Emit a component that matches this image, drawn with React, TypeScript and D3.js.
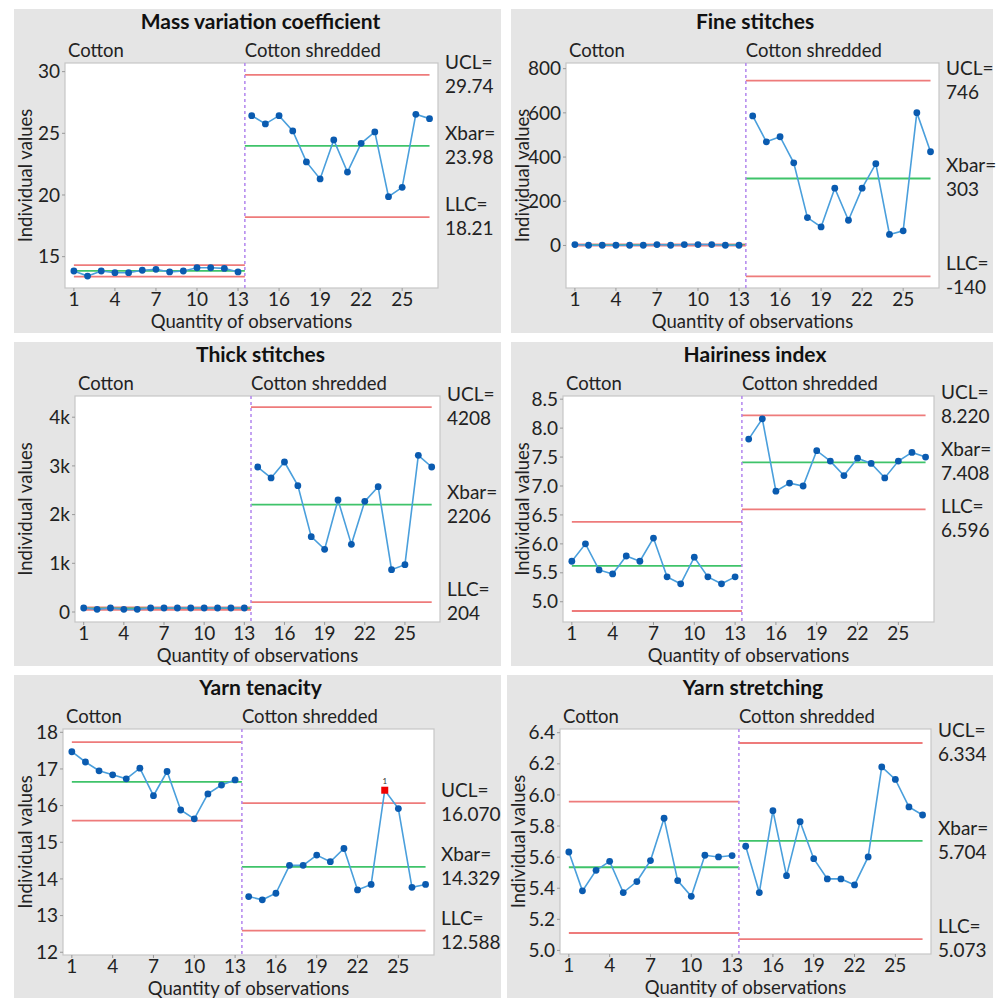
import React from "react";
import * as d3 from "d3";

const obsTicks = [1, 4, 7, 10, 13, 16, 19, 22, 25];
const limitNames = ["UCL=", "Xbar=", "LLC="];
const stageNames = ["Cotton", "Cotton shredded"];

// mass variation coefficient
const massCotton = [13.84, 13.43, 13.84, 13.7, 13.7, 13.9, 13.97, 13.76, 13.84, 14.1, 14.1, 14.05, 13.76];
const massShredded = [26.43, 25.76, 26.43, 25.19, 22.68, 21.3, 24.46, 21.86, 24.19, 25.11, 19.86, 20.62, 26.54, 26.19];
const massCottonLimits = [14.32, 13.85, 13.38];
const massShreddedLimits = [29.74, 23.98, 18.21];
const massLimitText = ["29.74", "23.98", "18.21"];
const massTicks = [15, 20, 25, 30];

// fine stitches
const fineCotton = [4, 1, 1, 1, 1, 1, 4, 1, 4, 4, 4, 1, 1];
const fineShredded = [586, 469, 492, 374, 126, 84, 259, 114, 259, 370, 50, 66, 601, 424];
const fineCottonLimits = [5, 2.1, -1];
const fineShreddedLimits = [746, 303, -140];
const fineLimitText = ["746", "303", "-140"];
const fineTicks = [0, 200, 400, 600, 800];

// thick stitches
const thickCotton = [82, 55, 82, 55, 55, 82, 82, 82, 82, 82, 82, 82, 82];
const thickShredded = [2977, 2752, 3080, 2594, 1547, 1287, 2300, 1389, 2272, 2574, 869, 972, 3217, 2977];
const thickCottonLimits = [95, 72, 45];
const thickShreddedLimits = [4208, 2206, 204];
const thickLimitText = ["4208", "2206", "204"];
const thickTicks = [0, 1000, 2000, 3000, 4000];

// hairiness index
const hairCotton = [5.7, 6.0, 5.55, 5.48, 5.79, 5.7, 6.1, 5.43, 5.31, 5.77, 5.43, 5.31, 5.43];
const hairShredded = [7.81, 8.16, 6.91, 7.05, 7.0, 7.61, 7.43, 7.18, 7.48, 7.39, 7.14, 7.43, 7.58, 7.5];
const hairCottonLimits = [6.38, 5.62, 4.84];
const hairShreddedLimits = [8.22, 7.408, 6.596];
const hairLimitText = ["8.220", "7.408", "6.596"];
const hairTicks = [5.0, 5.5, 6.0, 6.5, 7.0, 7.5, 8.0, 8.5];

// yarn tenacity
const tenCotton = [17.47, 17.19, 16.95, 16.84, 16.73, 17.02, 16.27, 16.93, 15.88, 15.64, 16.32, 16.56, 16.7];
const tenShredded = [13.52, 13.43, 13.61, 14.37, 14.37, 14.65, 14.47, 14.83, 13.7, 13.85, 16.42, 15.92, 13.77, 13.85];
const tenCottonLimits = [17.73, 16.65, 15.59];
const tenShreddedLimits = [16.07, 14.329, 12.588];
const tenLimitText = ["16.070", "14.329", "12.588"];
const tenTicks = [12, 13, 14, 15, 16, 17, 18];
const tenFlagged = [24];

// yarn stretching
const strCotton = [5.633, 5.383, 5.515, 5.573, 5.372, 5.443, 5.578, 5.85, 5.449, 5.348, 5.612, 5.601, 5.61];
const strShredded = [5.67, 5.372, 5.899, 5.481, 5.828, 5.59, 5.46, 5.46, 5.421, 5.601, 6.18, 6.1, 5.923, 5.871];
const strCottonLimits = [5.957, 5.535, 5.112];
const strShreddedLimits = [6.334, 5.704, 5.073];
const strLimitText = ["6.334", "5.704", "5.073"];
const strTicks = [5.0, 5.2, 5.4, 5.6, 5.8, 6.0, 6.2, 6.4];

const FONT = "Lato, 'Open Sans', sans-serif";
const xDomain = [0.35, 27.62];

const panels = [
  { title: "Mass variation coefficient", cotton: massCotton, shredded: massShredded, cl: massCottonLimits, sl: massShreddedLimits, lt: massLimitText, ticks: massTicks, fmt: (d) => String(d), yDomain: [12.46, 30.7], flagged: [], box: [14, 9, 501, 333], plot: [65, 63, 438, 288] },
  { title: "Fine stitches", cotton: fineCotton, shredded: fineShredded, cl: fineCottonLimits, sl: fineShreddedLimits, lt: fineLimitText, ticks: fineTicks, fmt: (d) => String(d), yDomain: [-192.5, 825.6], flagged: [], box: [511, 9, 993, 333], plot: [566, 63, 939, 288] },
  { title: "Thick stitches", cotton: thickCotton, shredded: thickShredded, cl: thickCottonLimits, sl: thickShreddedLimits, lt: thickLimitText, ticks: thickTicks, fmt: (d) => (d === 0 ? "0" : d / 1000 + "k"), yDomain: [-205, 4435], flagged: [], box: [14, 342, 501, 666], plot: [75, 396, 440, 622] },
  { title: "Hairiness index", cotton: hairCotton, shredded: hairShredded, cl: hairCottonLimits, sl: hairShreddedLimits, lt: hairLimitText, ticks: hairTicks, fmt: d3.format(".1f"), yDomain: [4.65, 8.555], flagged: [], box: [511, 342, 993, 666], plot: [563, 396, 934, 622] },
  { title: "Yarn tenacity", cotton: tenCotton, shredded: tenShredded, cl: tenCottonLimits, sl: tenShreddedLimits, lt: tenLimitText, ticks: tenTicks, fmt: (d) => String(d), yDomain: [11.925, 18.09], flagged: tenFlagged, box: [14, 675, 501, 998], plot: [63, 729, 434, 955] },
  { title: "Yarn stretching", cotton: strCotton, shredded: strShredded, cl: strCottonLimits, sl: strShreddedLimits, lt: strLimitText, ticks: strTicks, fmt: d3.format(".1f"), yDomain: [4.977, 6.424], flagged: [], box: [507, 675, 993, 998], plot: [560, 729, 931, 954] },
];

// push label pairs apart so they don't overlap
function spreadLabels(ys, gap) {
  const out = ys.map((v) => v - 6);
  for (let k = 0; k < 20; k++) {
    for (let i = 0; i < out.length - 1; i++) {
      const d = out[i + 1] - out[i];
      if (d < gap) {
        const s = (gap - d) / 2;
        out[i] -= s;
        out[i + 1] += s;
      }
    }
  }
  return out;
}

function ControlPanel({ p }) {
  const [gx0, gy0, gx1, gy1] = p.box;
  const [px0, py0, px1, py1] = p.plot;
  const x = d3.scaleLinear().domain(xDomain).range([px0, px1]);
  const y = d3.scaleLinear().domain(p.yDomain).range([py1, py0]);
  const line = d3.line().x((d) => x(d[0])).y((d) => y(d[1]));

  const n1 = p.cotton.length;
  const n = n1 + p.shredded.length;
  const split = n1 + 0.5;
  const cottonPts = p.cotton.map((v, i) => [i + 1, v]);
  const shredPts = p.shredded.map((v, i) => [n1 + i + 1, v]);
  const allPts = cottonPts.concat(shredPts);

  const limitYs = p.sl.map((v) => y(v));
  const labelYs = spreadLabels(limitYs, 57);

  const limitColor = ["#ee7b7b", "#3fc36a", "#ee7b7b"];

  return (
    <g>
      <rect x={gx0} y={gy0} width={gx1 - gx0} height={gy1 - gy0} fill="#e5e5e5" />
      <text x={(gx0 + gx1) / 2 + 3} y={gy0 + 20} textAnchor="middle" fontFamily={FONT} fontWeight="bold" fontSize={21} fill="#111">
        {p.title}
      </text>
      <text x={px0 + 3} y={py0 - 6} fontFamily={FONT} fontSize={18.5} fill="#222">{stageNames[0]}</text>
      <text x={x(split)} y={py0 - 6} fontFamily={FONT} fontSize={18.5} fill="#222">{stageNames[1]}</text>

      <rect x={px0} y={py0} width={px1 - px0} height={py1 - py0} fill="#fff" stroke="#c6c6c6" strokeWidth={1.2} />

      {p.ticks.map((t) => (
        <g key={"y" + t}>
          <line x1={px0 - 3} x2={px0} y1={y(t)} y2={y(t)} stroke="#999" />
          <text x={px0 - 5} y={y(t)} dy="0.35em" textAnchor="end" fontFamily={FONT} fontSize={19} fill="#222">{p.fmt(t)}</text>
        </g>
      ))}
      {obsTicks.map((t) => (
        <g key={"x" + t}>
          <line x1={x(t)} x2={x(t)} y1={py1} y2={py1 + 3} stroke="#999" />
          <text x={x(t)} y={py1 + 18} textAnchor="middle" fontFamily={FONT} fontSize={19} fill="#222">{t}</text>
        </g>
      ))}
      <text x={(px0 + px1) / 2} y={py1 + 40} textAnchor="middle" fontFamily={FONT} fontSize={18.5} fill="#222">Quantity of observations</text>
      <text transform={`translate(${gx0 + 12},${(py0 + py1) / 2}) rotate(-90)`} dy="0.35em" textAnchor="middle" fontFamily={FONT} fontSize={18.5} fill="#222">Individual values</text>

      {p.cl.map((v, i) => (
        <line key={"cl" + i} x1={x(1)} x2={x(split)} y1={y(v)} y2={y(v)} stroke={limitColor[i]} strokeWidth={1.8} />
      ))}
      {p.sl.map((v, i) => (
        <line key={"sl" + i} x1={x(split)} x2={x(n)} y1={y(v)} y2={y(v)} stroke={limitColor[i]} strokeWidth={1.8} />
      ))}
      <line x1={x(split)} x2={x(split)} y1={py0} y2={py1} stroke="#b285ee" strokeWidth={1.5} strokeDasharray="3,3" />

      <path d={line(cottonPts)} fill="none" stroke="#4a9fdc" strokeWidth={1.6} />
      <path d={line(shredPts)} fill="none" stroke="#4a9fdc" strokeWidth={1.6} />
      {allPts.map((d) =>
        p.flagged.includes(d[0]) ? (
          <g key={"pt" + d[0]}>
            <rect x={x(d[0]) - 3.5} y={y(d[1]) - 3.5} width={7} height={7} fill="#f00000" />
            <text x={x(d[0])} y={y(d[1]) - 6} textAnchor="middle" fontFamily={FONT} fontSize={8} fill="#333">1</text>
          </g>
        ) : (
          <circle key={"pt" + d[0]} cx={x(d[0])} cy={y(d[1])} r={3.4} fill="#0a5bb0" />
        )
      )}

      {p.lt.map((t, i) => (
        <g key={"lab" + i}>
          <text x={px1 + 7} y={labelYs[i]} fontFamily={FONT} fontSize={19} fill="#222">{limitNames[i]}</text>
          <text x={px1 + 7} y={labelYs[i] + 24} fontFamily={FONT} fontSize={19} fill="#222">{t}</text>
        </g>
      ))}
    </g>
  );
}

export default function App() {
  return (
    <svg width={997} height={998} style={{ position: "absolute", left: 0, top: 0, background: "#fff" }}>
      {panels.map((p) => (
        <ControlPanel key={p.title} p={p} />
      ))}
    </svg>
  );
}
